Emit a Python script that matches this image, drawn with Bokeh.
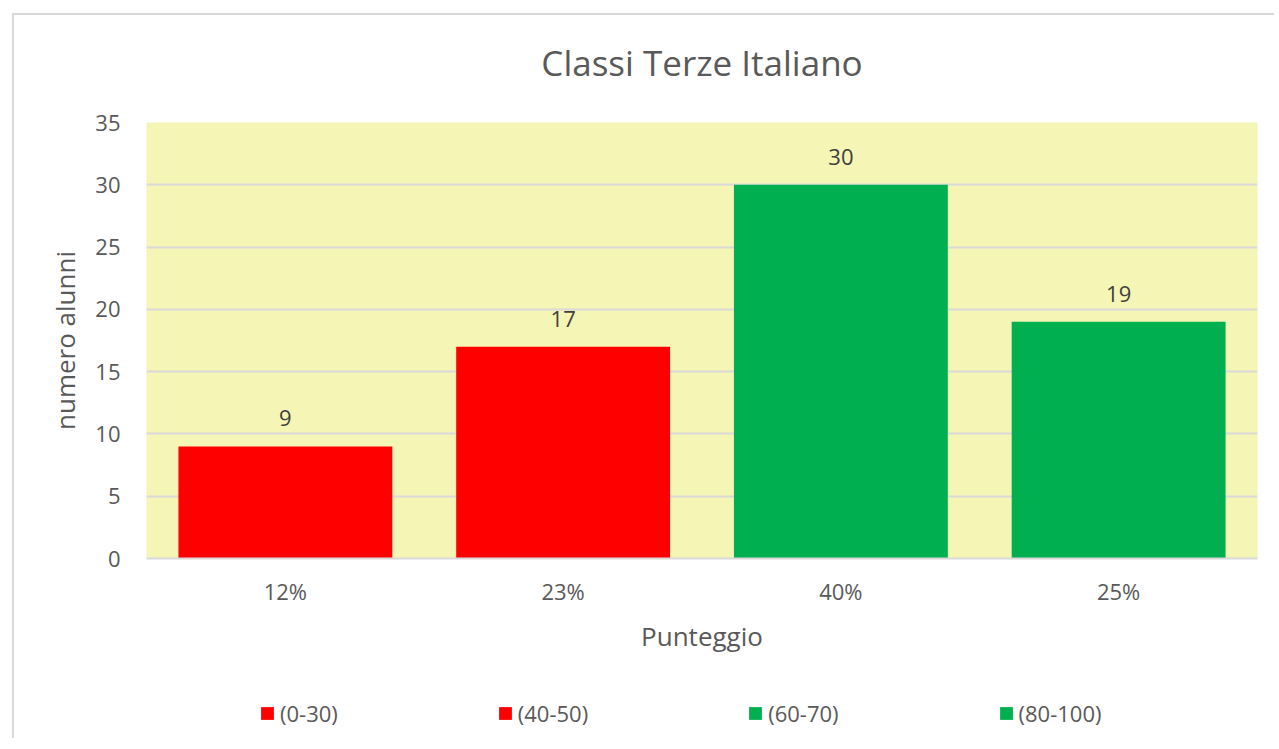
from bokeh.plotting import figure
from bokeh.layouts import column
from bokeh.models import FactorRange, Range1d, Legend, LegendItem, ColumnDataSource, FixedTicker, Title
from bokeh.core.properties import value
from bokeh.embed import file_html
from bokeh.resources import INLINE

categories = ["12%", "23%", "40%", "25%"]
counts = [9, 17, 30, 19]
series_names = ["(0-30)", "(40-50)", "(60-70)", "(80-100)"]
colors = ["#FF0000", "#FF0000", "#00B050", "#00B050"]
y_ticks = [0, 5, 10, 15, 20, 25, 30, 35]
chart_title = "Classi Terze Italiano"

FONT = "Open Sans"
TXT = "#595959"
BORDER = "2px solid #d9d9d9"

W, H = 1262, 668
p = figure(x_range=FactorRange(*categories, range_padding=0), y_range=Range1d(0, 35),
           width=W, height=H, output_backend="svg", toolbar_location=None,
           min_border_left=132, min_border_right=19, min_border_top=107, min_border_bottom=125,
           margin=(13, 0, 0, 12))
p.styles = {"border-left": BORDER, "border-top": BORDER}
p.x_range.range_padding = 0
p.background_fill_color = "#F5F5B5"
p.border_fill_color = "white"
p.outline_line_color = None
p.title.text = ""

# spacer (closest to the frame), then the visible title above it
p.add_layout(Title(text=" ", text_font_size="1px", standoff=34), "above")
p.add_layout(Title(text=chart_title, align="center", text_font=FONT, text_font_size="35px",
                   text_font_style="normal", text_color=TXT, standoff=0, offset=0), "above")

src = ColumnDataSource(dict(x=categories, y=counts, lbl=[str(v) for v in counts]))
for i in range(len(categories)):
    p.vbar(x=[categories[i]], top=[counts[i]], width=0.77, fill_color=colors[i], line_color=None)

p.text(x="x", y="y", text="lbl", source=src, text_align="center", text_baseline="bottom",
       y_offset=-20, text_font=value(FONT), text_font_size="22px", text_color="#404040")

p.xgrid.grid_line_color = None
p.ygrid.grid_line_color = "#D9D9D9"
p.ygrid.grid_line_width = 2
p.yaxis.ticker = FixedTicker(ticks=y_ticks)

for ax in (p.xaxis[0], p.yaxis[0]):
    ax.major_tick_line_color = None
    ax.minor_tick_line_color = None
    ax.major_label_text_font = FONT
    ax.major_label_text_font_size = "22px"
    ax.major_label_text_color = TXT
    ax.axis_label_text_font = FONT
    ax.axis_label_text_font_size = "26px"
    ax.axis_label_text_font_style = "normal"
    ax.axis_label_text_color = TXT

p.yaxis.axis_line_color = None
p.yaxis.major_label_standoff = 20
p.yaxis.axis_label = "numero alunni"
p.yaxis.axis_label_standoff = 9
p.xaxis.axis_line_color = "#D9D9D9"
p.xaxis.axis_line_width = 2
p.xaxis.major_label_standoff = 11
p.xaxis.axis_label = "Punteggio"
p.xaxis.axis_label_standoff = 9

# legend strip below the chart
q = figure(x_range=p.x_range, y_range=p.y_range, width=W, height=57, output_backend="svg",
           toolbar_location=None, min_border=0, margin=(0, 0, 0, 12),
           x_axis_location=None, y_axis_location=None)
q.styles = {"border-left": BORDER}
q.grid.visible = False
q.outline_line_color = None
q.background_fill_color = "white"
q.border_fill_color = "white"
leg_renderers = []
for i in range(len(series_names)):
    r = q.vbar(x=[categories[i]], top=[counts[i]], width=0.77, fill_color=colors[i], line_color=None)
    r.visible = False
    leg_renderers.append(r)

legend = Legend(items=[LegendItem(label=series_names[i], renderers=[leg_renderers[i]]) for i in range(4)],
                orientation="horizontal", location=(113, 10), spacing=159,
                glyph_width=16, glyph_height=16, label_standoff=5,
                label_text_font=FONT, label_text_font_size="22px", label_text_color=TXT,
                border_line_color=None, background_fill_alpha=0, padding=0, margin=0)
q.add_layout(legend, "center")

layout = column(p, q, spacing=0)
open("out.html", "w").write(file_html(layout, INLINE))
